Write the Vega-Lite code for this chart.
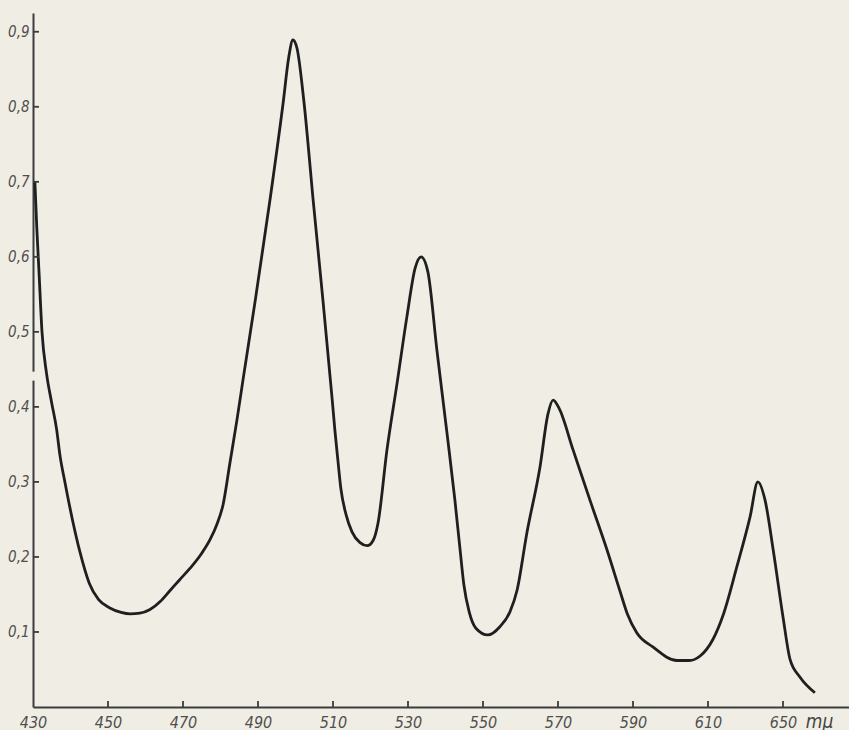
{
  "$schema": "https://vega.github.io/schema/vega-lite/v6.json",
  "autosize": {"type": "none"},
  "padding": {"left": 33, "top": 13, "right": 0, "bottom": 23},
  "width": 816,
  "height": 694,
  "background": "#f0ede4",
  "config": {
    "view": {"stroke": null},
    "axis": {
      "grid": false,
      "ticks": false,
      "domainColor": "#3c3c3c",
      "domainWidth": 2,
      "labelColor": "#4f4f4f",
      "labelFont": "Liberation Sans Narrow, DejaVu Sans Condensed, Liberation Sans",
      "labelFontStyle": "italic",
      "titleFont": "Liberation Sans Narrow, DejaVu Sans Condensed, Liberation Sans"
    }
  },
  "datasets": {
    "spectrum": [
      {"nm": 430.5, "ext": 0.70},
      {"nm": 431.0, "ext": 0.64},
      {"nm": 431.6, "ext": 0.58},
      {"nm": 432.4, "ext": 0.50},
      {"nm": 433.6, "ext": 0.445},
      {"nm": 435.0, "ext": 0.405},
      {"nm": 436.3, "ext": 0.37},
      {"nm": 437.2, "ext": 0.335},
      {"nm": 438.5, "ext": 0.30},
      {"nm": 440.5, "ext": 0.25},
      {"nm": 442.5, "ext": 0.207},
      {"nm": 445.0, "ext": 0.165},
      {"nm": 447.5, "ext": 0.143},
      {"nm": 450.5, "ext": 0.132},
      {"nm": 453.5, "ext": 0.126},
      {"nm": 455.9, "ext": 0.124},
      {"nm": 458.5, "ext": 0.125},
      {"nm": 461.2, "ext": 0.13},
      {"nm": 464.0, "ext": 0.141},
      {"nm": 466.5, "ext": 0.155},
      {"nm": 469.0, "ext": 0.169},
      {"nm": 471.9, "ext": 0.185},
      {"nm": 475.0, "ext": 0.205},
      {"nm": 477.2, "ext": 0.223},
      {"nm": 479.0, "ext": 0.243},
      {"nm": 480.7, "ext": 0.27},
      {"nm": 482.5, "ext": 0.325},
      {"nm": 484.4, "ext": 0.383},
      {"nm": 486.0, "ext": 0.436},
      {"nm": 489.3, "ext": 0.543},
      {"nm": 493.2, "ext": 0.676},
      {"nm": 496.7, "ext": 0.805},
      {"nm": 498.2, "ext": 0.866},
      {"nm": 499.3, "ext": 0.889},
      {"nm": 500.4, "ext": 0.878},
      {"nm": 502.2, "ext": 0.809},
      {"nm": 504.7, "ext": 0.676},
      {"nm": 507.3, "ext": 0.543},
      {"nm": 509.8, "ext": 0.409},
      {"nm": 510.5, "ext": 0.369},
      {"nm": 511.3, "ext": 0.329},
      {"nm": 512.1, "ext": 0.291},
      {"nm": 513.5, "ext": 0.256},
      {"nm": 515.1, "ext": 0.233},
      {"nm": 517.2, "ext": 0.219},
      {"nm": 519.1, "ext": 0.215},
      {"nm": 520.7, "ext": 0.222},
      {"nm": 522.0, "ext": 0.245},
      {"nm": 524.4, "ext": 0.343},
      {"nm": 527.1, "ext": 0.432},
      {"nm": 529.7, "ext": 0.52},
      {"nm": 531.9, "ext": 0.585},
      {"nm": 533.5, "ext": 0.60},
      {"nm": 535.3, "ext": 0.58},
      {"nm": 537.7, "ext": 0.476},
      {"nm": 540.4, "ext": 0.365},
      {"nm": 542.5, "ext": 0.276},
      {"nm": 543.9, "ext": 0.209},
      {"nm": 544.9, "ext": 0.163},
      {"nm": 546.3, "ext": 0.127},
      {"nm": 548.1, "ext": 0.105},
      {"nm": 551.3, "ext": 0.096},
      {"nm": 554.5, "ext": 0.107},
      {"nm": 557.2, "ext": 0.127},
      {"nm": 559.1, "ext": 0.156},
      {"nm": 561.7, "ext": 0.232},
      {"nm": 565.2, "ext": 0.32},
      {"nm": 567.3, "ext": 0.39},
      {"nm": 568.7, "ext": 0.409},
      {"nm": 570.3, "ext": 0.398},
      {"nm": 574.0, "ext": 0.343},
      {"nm": 578.5, "ext": 0.276},
      {"nm": 583.1, "ext": 0.209},
      {"nm": 586.5, "ext": 0.155},
      {"nm": 588.5, "ext": 0.124},
      {"nm": 591.0, "ext": 0.099},
      {"nm": 595.3, "ext": 0.08},
      {"nm": 601.7, "ext": 0.062},
      {"nm": 605.0, "ext": 0.062},
      {"nm": 607.9, "ext": 0.068},
      {"nm": 611.3, "ext": 0.09},
      {"nm": 614.0, "ext": 0.122},
      {"nm": 617.7, "ext": 0.187},
      {"nm": 621.2, "ext": 0.253},
      {"nm": 623.3, "ext": 0.30},
      {"nm": 625.2, "ext": 0.276},
      {"nm": 627.4, "ext": 0.209},
      {"nm": 630.0, "ext": 0.12},
      {"nm": 631.9, "ext": 0.063},
      {"nm": 634.5, "ext": 0.04},
      {"nm": 638.5, "ext": 0.019}
    ],
    "xticks": [
      {"nm": 450}, {"nm": 470}, {"nm": 490}, {"nm": 510}, {"nm": 530},
      {"nm": 550}, {"nm": 570}, {"nm": 590}, {"nm": 610}, {"nm": 630}
    ],
    "yticks": [
      {"ext": 0.1}, {"ext": 0.2}, {"ext": 0.3}, {"ext": 0.4}, {"ext": 0.5},
      {"ext": 0.6}, {"ext": 0.7}, {"ext": 0.8}, {"ext": 0.9}
    ]
  },
  "layer": [
    {
      "data": {"name": "spectrum"},
      "mark": {"type": "line", "color": "#1f1f1f", "strokeWidth": 2.8, "interpolate": "monotone"},
      "encoding": {
        "x": {
          "field": "nm",
          "type": "quantitative",
          "scale": {"domain": [430, 647.6], "nice": false, "zero": false},
          "axis": {
            "values": [430, 450, 470, 490, 510, 530, 550, 570, 590, 610, 630],
            "labelExpr": "datum.value == 630 ? '650' : datum.label",
            "labelPadding": 7,
            "labelFontSize": 16,
            "labelFlush": false,
            "title": "mμ",
            "titleFontSize": 19,
            "titleFontStyle": "italic",
            "titleFontWeight": "normal",
            "titleColor": "#444444",
            "titleAnchor": "start",
            "titleAlign": "center",
            "titleBaseline": "middle",
            "titleX": 786,
            "titleY": 14,
            "zindex": 0
          }
        },
        "y": {
          "field": "ext",
          "type": "quantitative",
          "scale": {"domain": [0, 0.925], "nice": false, "zero": true},
          "axis": {
            "values": [0.1, 0.2, 0.3, 0.4, 0.5, 0.6, 0.7, 0.8, 0.9],
            "labelExpr": "replace(format(datum.value, '.1f'), '.', ',')",
            "labelPadding": 4,
            "labelFontSize": 15,
            "labelFlush": false,
            "title": null,
            "zindex": 0
          }
        }
      }
    },
    {
      "data": {"name": "xticks"},
      "mark": {"type": "rule", "color": "#3c3c3c", "strokeWidth": 1.8},
      "encoding": {
        "x": {"field": "nm", "type": "quantitative"},
        "y": {"datum": 0},
        "y2": {"datum": 0.008}
      }
    },
    {
      "data": {"name": "yticks"},
      "mark": {"type": "rule", "color": "#3c3c3c", "strokeWidth": 1.8},
      "encoding": {
        "y": {"field": "ext", "type": "quantitative"},
        "x": {"datum": 430},
        "x2": {"datum": 431.6}
      }
    },
    {
      "data": {"name": "yticks"},
      "transform": [{"filter": "datum.ext == 0.5"}],
      "mark": {"type": "rule", "color": "#f0ede4", "strokeWidth": 4},
      "encoding": {
        "x": {"datum": 430},
        "y": {"datum": 0.435},
        "y2": {"datum": 0.447}
      }
    }
  ]
}
